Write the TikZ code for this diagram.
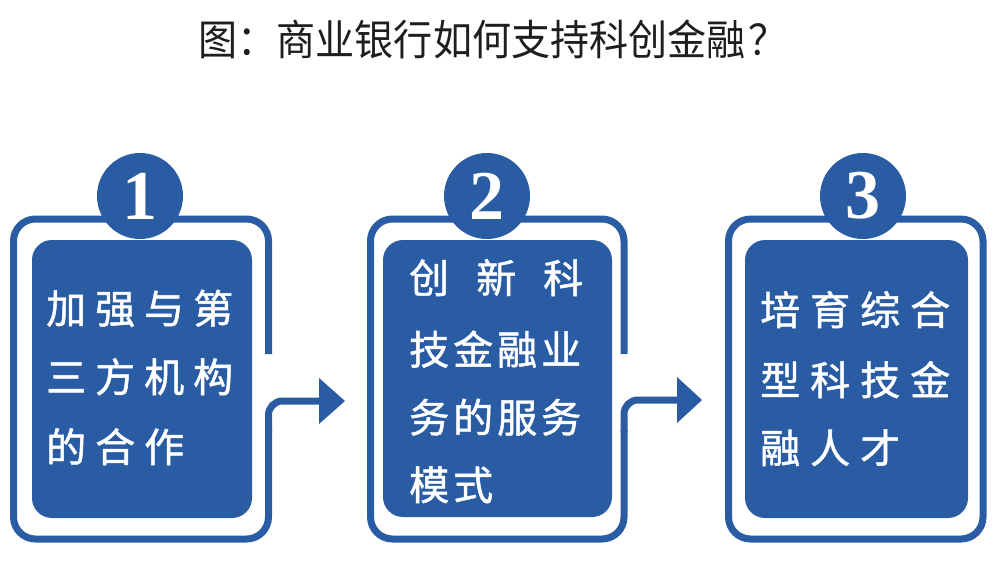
\documentclass[tikz,border=0pt]{standalone}
\usepackage{fontspec}
\usepackage{graphicx}
\newfontfamily\cjk{Noto Sans CJK SC}
\newfontfamily\cjkb{Noto Sans CJK SC}[FakeBold=1.2]
\newfontfamily\numf{Liberation Serif}
\definecolor{bl}{RGB}{42,92,164}
\definecolor{ttlc}{RGB}{30,30,30}
\newcommand\gpa[1]{\hspace{#1pt}}
\begin{document}
\begin{tikzpicture}[x=1pt,y=-1pt,
  outl/.style={draw=bl,line width=7pt},
  inbox/.style={rectangle,fill=bl,rounded corners=20pt,inner sep=0pt},
  badge/.style={circle,fill=bl,minimum size=86pt,inner sep=0pt,text=white,
     font=\numf\bfseries\fontsize{70}{70}\selectfont},
  txt/.style={text=white,font=\cjkb\fontsize{40}{40}\selectfont,anchor=base west,inner sep=0pt},
  ttl/.style={text=ttlc,font=\cjk\fontsize{42}{42}\selectfont,anchor=base,inner sep=0pt},
  head/.style={fill=bl}]
\useasboundingbox (0,0) rectangle (1000,564);

\node[ttl] (title) at (493,56) {\scalebox{0.93}[1]{图：商业银行如何支持科创金融\hspace{3pt}？}};

% ---------- panel 1 ----------
\draw[outl,rounded corners=22pt] (268.5,354) -- (268.5,219) -- (13.5,219)
   -- (13.5,539) -- (268.5,539) -- (268.5,430);
\coordinate (a1s) at (268.5,432);
\coordinate (a1e) at (321,401);
\draw[outl,rounded corners=14pt] (a1s) -- (a1s |- a1e) -- (a1e);
\fill[head] (a1e) ++(-2,-23) -- ++(26,23) -- ++(-26,23) -- cycle;
\node[inbox,minimum width=220pt,minimum height=278pt] (b1) at (142,379) {};
\node[badge] (c1) at (140,196) {1};
\node[txt] (l11) at (46,323.5) {加\gpa{9}强\gpa{9}与\gpa{9}第};
\node[txt] (l12) at (46,392) {三\gpa{9}方\gpa{9}机\gpa{9}构};
\node[txt] (l13) at (46,462) {的\gpa{9}合\gpa{9}作};

% ---------- panel 2 ----------
\draw[outl,rounded corners=22pt] (624,354) -- (624,219) -- (370.5,219)
   -- (370.5,539) -- (624,539) -- (624,430);
\coordinate (a2s) at (624,432);
\coordinate (a2e) at (679,400);
\draw[outl,rounded corners=14pt] (a2s) -- (a2s |- a2e) -- (a2e);
\fill[head] (a2e) ++(-2,-23) -- ++(25,23) -- ++(-25,23) -- cycle;
\node[inbox,minimum width=229pt,minimum height=277pt] (b2) at (497.5,378.5) {};
\node[badge] (c2) at (487,196) {2};
\node[txt] (l21) at (409,293) {创\gpa{27}新\gpa{27}科};
\node[txt] (l22) at (409,364.5) {技\gpa{4}金\gpa{4}融\gpa{4}业};
\node[txt] (l23) at (409,432.5) {务\gpa{4}的\gpa{4}服\gpa{4}务};
\node[txt] (l24) at (409,500) {模\gpa{4}式};

% ---------- panel 3 ----------
\draw[outl,rounded corners=22pt] (728.5,219) rectangle (983,539);
\node[inbox,minimum width=223pt,minimum height=278pt] (b3) at (856.5,379) {};
\node[badge] (c3) at (863,196) {3};
\node[txt] (l31) at (760,325) {培\gpa{10}育\gpa{10}综\gpa{10}合};
\node[txt] (l32) at (760,395) {型\gpa{10}科\gpa{10}技\gpa{10}金};
\node[txt] (l33) at (760,463) {融\gpa{10}人\gpa{10}才};
\end{tikzpicture}
\end{document}
